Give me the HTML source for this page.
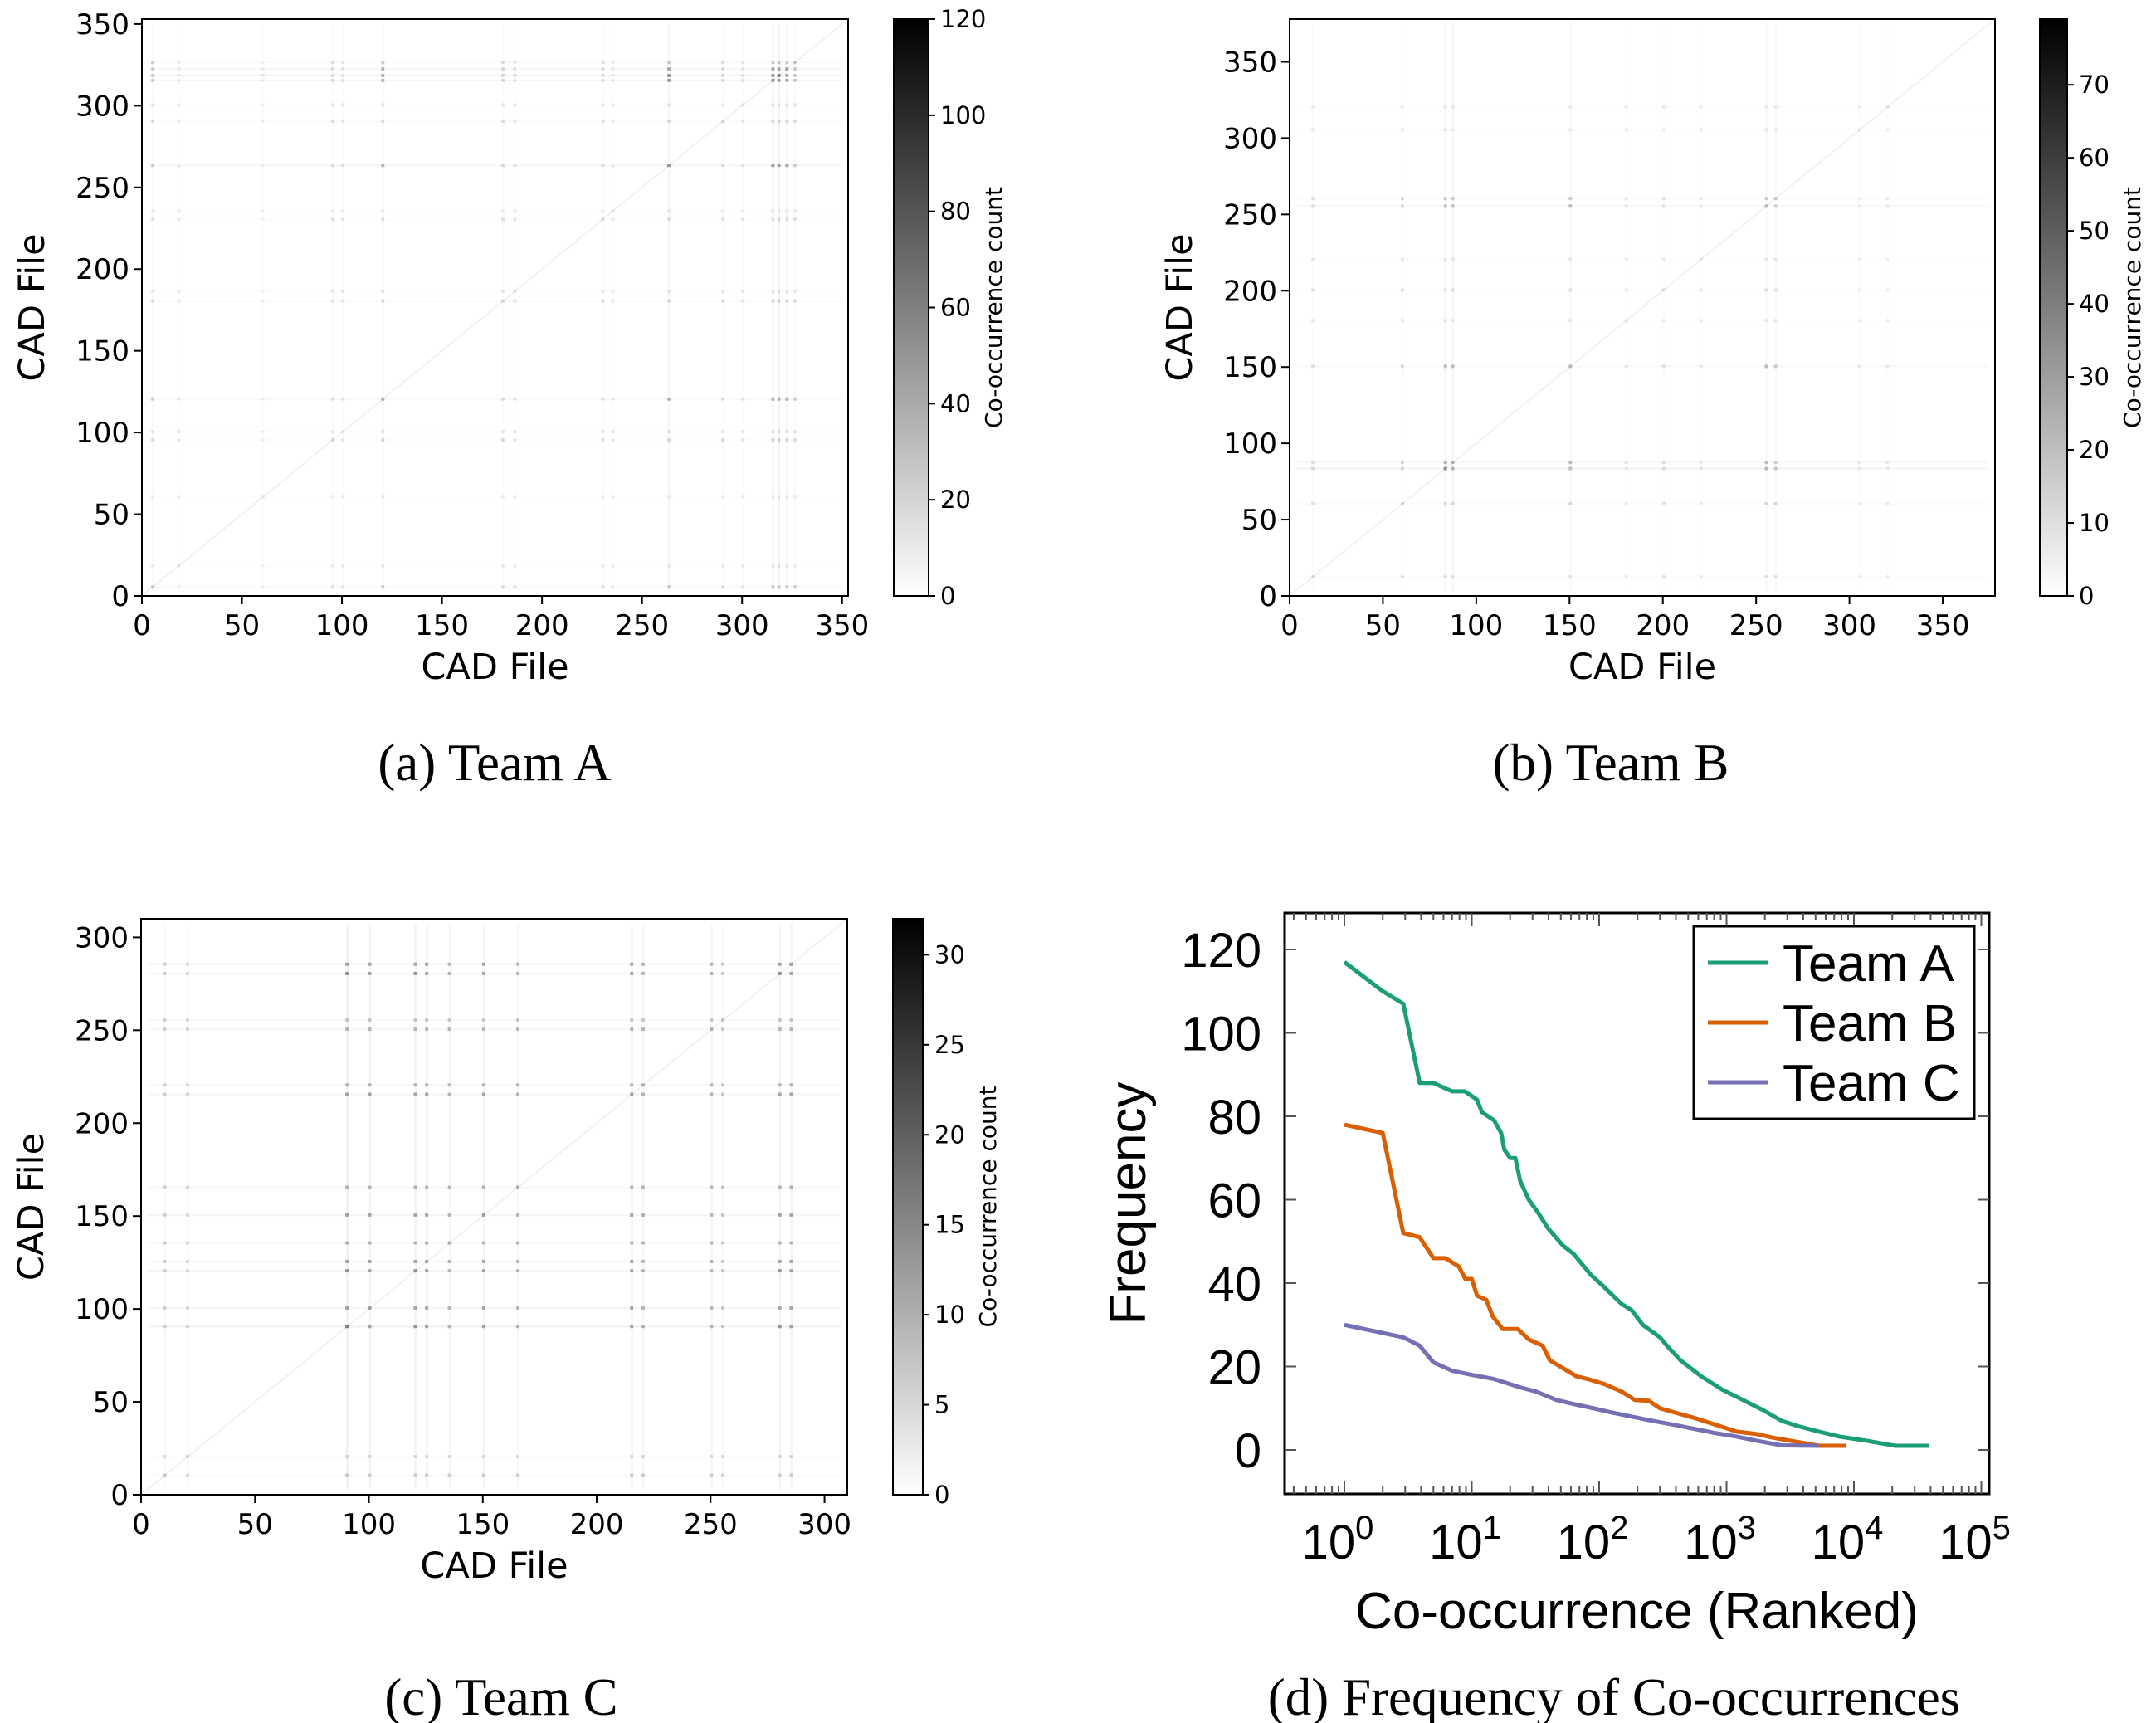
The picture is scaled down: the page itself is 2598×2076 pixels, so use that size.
<!DOCTYPE html>
<html><head><meta charset="utf-8"><style>
html,body{margin:0;padding:0;background:#fff;}
svg{display:block;}
.tk{font-family:"DejaVu Sans","Liberation Sans",sans-serif;font-size:34px;fill:#000;}
.ctk{font-family:"DejaVu Sans","Liberation Sans",sans-serif;font-size:29px;fill:#000;}
.lab{font-family:"DejaVu Sans","Liberation Sans",sans-serif;font-size:43px;fill:#000;}
.clab{font-family:"DejaVu Sans","Liberation Sans",sans-serif;font-size:28px;fill:#000;}
.cap{font-family:"Liberation Serif",serif;font-size:63px;fill:#000;}
.dtk{font-family:"Liberation Sans",sans-serif;font-size:58px;fill:#000;}
.dlab{font-family:"Liberation Sans",sans-serif;font-size:62px;fill:#000;}
.leg{font-family:"Liberation Sans",sans-serif;font-size:62px;fill:#000;}
</style></head><body>
<svg id="fig" width="2598" height="2076" viewBox="0 0 2598 2076" xmlns="http://www.w3.org/2000/svg">
<defs><linearGradient id="cbg" x1="0" y1="1" x2="0" y2="0"><stop offset="0" stop-color="#fff"/><stop offset="1" stop-color="#000"/></linearGradient></defs>
<text class="cap" x="596" y="940" text-anchor="middle">(a) Team A</text>
<text class="cap" x="1941" y="940" text-anchor="middle">(b) Team B</text>
<text class="cap" x="604" y="2066" text-anchor="middle">(c) Team C</text>
<text class="cap" x="1945" y="2066" text-anchor="middle">(d) Frequency of Co-occurrences</text>
</svg>
<script>
// ---- heatmap data ----
const heatTicksA = [0,50,100,150,200,250,300,350];
const heatTicksB = [0,50,100,150,200,250,300,350];
const heatTicksC = [0,50,100,150,200,250,300];
const cbTicksA = [0,20,40,60,80,100,120];
const cbTicksB = [0,10,20,30,40,50,60,70];
const cbTicksC = [0,5,10,15,20,25,30];
const hotA = [5,18,60,95,100,120,180,186,230,235,263,290,300,315,318,322,326];
const hotAVal = [20,8,6,14,10,30,14,10,12,8,40,14,10,40,50,35,20];
const hotB = [12,60,83,87,150,180,200,220,255,260,305,320];
const hotBVal = [8,10,30,20,18,6,8,6,18,14,5,5];
const hotC = [10,20,90,100,120,125,135,150,165,215,220,250,255,280,285];
const hotCVal = [5,4,14,10,12,10,8,10,8,10,8,8,6,12,10];

// ---- frequency curve data (rank, frequency) ----
const rankA = [1,2,2.9,3.9,5,7,8.8,11,12,15,17,18,20,22,24,28,33,40,52,63,86,110,150,180,220,300,340,435,630,920,1340,1950,2700,3650,5300,7700,12600,21000,39000];
const freqA = [117,110,107,88,88,86,86,84,81,79,76,72,70,70,64.5,60,57,53,49,47,42,39,35,33.5,30,27,25,21.5,17.7,14.5,12,9.5,7,5.7,4.4,3.2,2.2,1,1];
const rankB = [1,2,2.9,3.9,5,6.2,7.9,8.9,10,11,13,14.6,17.5,23,28,36,41,52,66,86,110,150,190,245,300,390,570,830,1200,1730,2350,3650,5300,8700];
const freqB = [78,76,52,51,46,46,44,41,41,37,36,32,29,29,26.5,25,21.5,19.6,17.7,16.8,15.8,14,12,11.8,10,9,7.6,6,4.4,3.8,2.9,1.9,1,1];
const rankC = [1,2.9,3.9,5,7,10,15,19,24,32,46,63,90,125,180,260,390,570,830,1200,1730,2700,5300];
const freqC = [30,27,25,21,19,18,17,16,15,14,12,11,10,9,8,7,6,5,4,3.2,2.2,1.1,1];
const yTicksD = [0,20,40,60,80,100,120];
const xDecades = [0,1,2,3,4,5];

const NS='http://www.w3.org/2000/svg';
const fig=document.getElementById('fig');
function mk(tag,attrs,parent){const e=document.createElementNS(NS,tag);for(const k in attrs)e.setAttribute(k,attrs[k]);(parent||fig).appendChild(e);return e;}

function heat(id,cfg){
  const g=mk('g',{});
  
  
  const {L,R,T,B,max,ticks,hot,hotVal,vmax,cbL,cbR,cbTicks}=cfg;
  const sx=v=>L+(R-L)*v/max, sy=v=>B-(B-T)*v/max;
  const cb=v=>B-(B-T)*v/vmax;
  hot.forEach((h,i)=>{
    const a=Math.min(0.5,hotVal[i]/vmax*0.6);
    const col=mk('rect',{x:sx(h),y:sy(max-3),width:Math.max(2,(R-L)/max),height:sy(3)-sy(max-3),fill:'#000',opacity:a*0.2},g);
    
    
    const row=mk('rect',{x:sx(3),y:sy(h+1),width:sx(max-3)-sx(3),height:Math.max(2,(B-T)/max),fill:'#000',opacity:a*0.2},g);
    
    
    hot.forEach((k,j)=>{
      const v=Math.min(hotVal[i],hotVal[j]);
      const c=mk('rect',{x:sx(h)-1,y:sy(k+1)-1,width:4,height:4,fill:'#000',opacity:Math.min(0.9,v/vmax*1.0)},g);
      
      
    });
  });
  const d=mk('line',{x1:sx(0),y1:sy(0),x2:sx(max),y2:sy(max),stroke:'#000','stroke-width':2,opacity:0.05},g);
  
  
  const fr=mk('rect',{x:L,y:T,width:R-L,height:B-T,fill:'none',stroke:'#000','stroke-width':2},g);
  
  
  ticks.forEach(t=>{
    mk('line',{x1:sx(t),y1:B,x2:sx(t),y2:B+10,stroke:'#000','stroke-width':2},g);
    const tx=mk('text',{x:sx(t),y:B+47,'text-anchor':'middle',class:'tk'},g);tx.textContent=t;
    
    
    mk('line',{x1:L-10,y1:sy(t),x2:L,y2:sy(t),stroke:'#000','stroke-width':2},g);
    const ty=mk('text',{x:L-15,y:sy(t)+12,'text-anchor':'end',class:'tk'},g);ty.textContent=t;
    
    
  });
  const xl=mk('text',{x:(L+R)/2,y:B+100,'text-anchor':'middle',class:'lab'},g);xl.textContent='CAD File';
  
  
  const yl=mk('text',{x:0,y:0,'text-anchor':'middle',class:'lab',transform:`translate(${L-118},${(T+B)/2}) rotate(-90)`},g);yl.textContent='CAD File';
  
  
  const cbr=mk('rect',{x:cbL,y:T,width:cbR-cbL,height:B-T,fill:'url(#cbg)',stroke:'#000','stroke-width':2},g);
  
  
  cbTicks.forEach(t=>{
    mk('line',{x1:cbR,y1:cb(t),x2:cbR+8,y2:cb(t),stroke:'#000','stroke-width':2},g);
    const c=mk('text',{x:cbR+14,y:cb(t)+10,class:'ctk'},g);c.textContent=t;
    
    
  });
  const cl=mk('text',{x:0,y:0,'text-anchor':'middle',class:'clab',transform:`translate(${cbR+88},${(T+B)/2}) rotate(-90)`},g);cl.textContent='Co-occurrence count';
  
  
}
heat('a',{L:171,R:1022,T:23,B:718,max:353,ticks:heatTicksA,hot:hotA,hotVal:hotAVal,vmax:120,cbL:1077,cbR:1119,cbTicks:cbTicksA});
heat('b',{L:1554,R:2404,T:23,B:718,max:378,ticks:heatTicksB,hot:hotB,hotVal:hotBVal,vmax:79,cbL:2458,cbR:2491,cbTicks:cbTicksB});
heat('c',{L:170,R:1021,T:1107,B:1801,max:310,ticks:heatTicksC,hot:hotC,hotVal:hotCVal,vmax:32,cbL:1076,cbR:1112,cbTicks:cbTicksC});

// ---- panel d ----
(function(){
  const L=1548,R=2397,T=1100,B=1800;
  const x0=1620,dec=153.5;
  const sx=r=>x0+dec*Math.log10(r);
  const sy=v=>1747-(603/120)*v;
  const g=mk('g',{});
  
  
  const fr=mk('rect',{x:L,y:T,width:R-L,height:B-T,fill:'none',stroke:'#000','stroke-width':3},g);
  
  
  yTicksD.forEach(t=>{
    mk('line',{x1:L,y1:sy(t),x2:L+14,y2:sy(t),stroke:'#555','stroke-width':2},g);
    mk('line',{x1:R-14,y1:sy(t),x2:R,y2:sy(t),stroke:'#555','stroke-width':2},g);
    const ty=mk('text',{x:L-28,y:sy(t)+21,'text-anchor':'end',class:'dtk'},g);ty.textContent=t;
    
    
  });
  for(let e=-1;e<=5;e++){
    for(let m=1;m<10;m++){
      const x=x0+dec*(e+Math.log10(m));
      if(x<L+2||x>R-2)continue;
      const len=m===1?16:9;
      mk('line',{x1:x,y1:B,x2:x,y2:B-len,stroke:'#555','stroke-width':2},g);
      mk('line',{x1:x,y1:T,x2:x,y2:T+len,stroke:'#555','stroke-width':2},g);
    }
  }
  xDecades.forEach(e=>{
    const t=mk('text',{x:sx(Math.pow(10,e))-8,y:B+78,'text-anchor':'middle',class:'dtk'},g);
    t.textContent='10';
    
    
    const s=mk('tspan',{dy:-24,'font-size':'40'},t);s.textContent=e;
  });
  const xl=mk('text',{x:(L+R)/2,y:B+162,'text-anchor':'middle',class:'dlab'},g);xl.textContent='Co-occurrence (Ranked)';
  
  
  const yl=mk('text',{x:0,y:0,'text-anchor':'middle',class:'dlab',transform:`translate(${L-168},${(T+B)/2}) rotate(-90)`},g);yl.textContent='Frequency';
  
  
  const series=[[rankA,freqA,'#1b9e77','line-team-a'],[rankB,freqB,'#d95f02','line-team-b'],[rankC,freqC,'#7570b3','line-team-c']];
  series.forEach(([r,f,c,n])=>{
    const p=mk('polyline',{points:r.map((v,i)=>sx(v)+','+sy(f[i])).join(' '),fill:'none',stroke:c,'stroke-width':5,'stroke-linejoin':'round'},g);
    
    
  });
  const lg=mk('g',{},g);
  
  
  mk('rect',{x:2041,y:1116,width:338,height:232,fill:'#fff',stroke:'#000','stroke-width':3},lg);
  const names=['Team A','Team B','Team C'];
  const cols=['#1b9e77','#d95f02','#7570b3'];
  names.forEach((nm,i)=>{
    const y=1160+i*72;
    mk('line',{x1:2058,y1:y,x2:2131,y2:y,stroke:cols[i],'stroke-width':5},lg);
    const t=mk('text',{x:2148,y:y+22,class:'leg'},lg);t.textContent=nm;
    
    
  });
})();
</script>
</body></html>
